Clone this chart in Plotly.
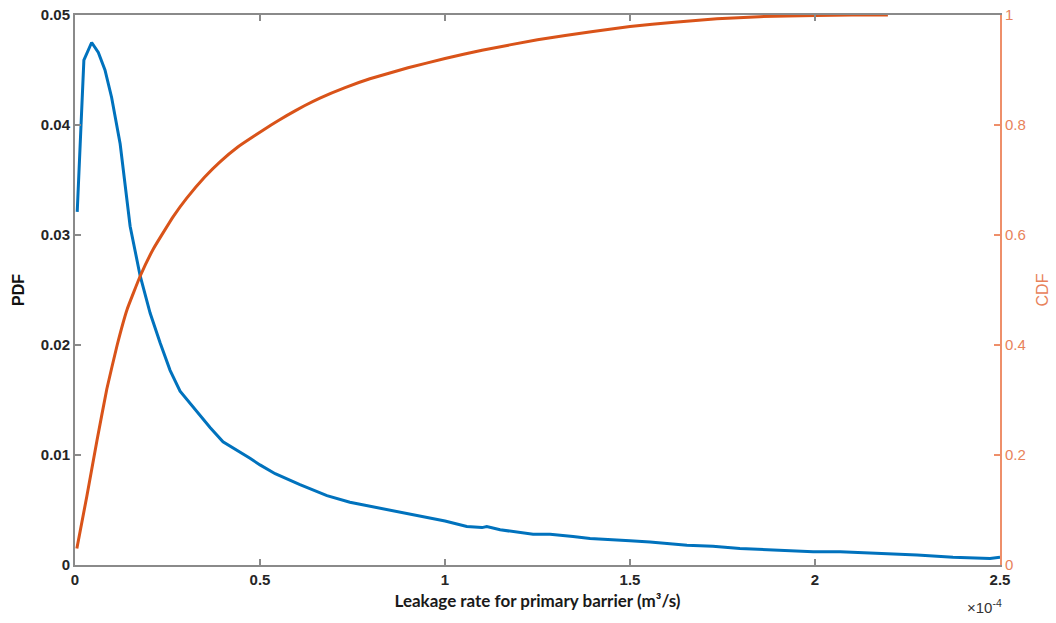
import plotly.graph_objects as go

# Leakage rate in units of 1e-4 m^3/s
pdf_x = [0.006, 0.024, 0.045, 0.063, 0.081, 0.099, 0.122, 0.141, 0.149, 0.176, 0.203, 0.230,
         0.257, 0.284, 0.311, 0.365, 0.400, 0.446, 0.473, 0.500, 0.541, 0.608, 0.681, 0.743,
         0.816, 0.878, 0.941, 1.000, 1.059, 1.100, 1.113, 1.149, 1.238, 1.284, 1.346, 1.392,
         1.500, 1.554, 1.654, 1.724, 1.797, 1.914, 1.995, 2.068, 2.140, 2.276, 2.373, 2.473, 2.500]
pdf_y = [0.0321, 0.0459, 0.0475, 0.0466, 0.0450, 0.0425, 0.0383, 0.0330, 0.0308, 0.0263, 0.0229, 0.0202,
         0.0177, 0.0158, 0.0147, 0.0125, 0.0112, 0.0103, 0.0097, 0.0091, 0.0083, 0.0073, 0.0063, 0.0057,
         0.0052, 0.0048, 0.0044, 0.0040, 0.0035, 0.0034, 0.0035, 0.0032, 0.0028, 0.0028, 0.0026, 0.0024,
         0.0022, 0.0021, 0.0018, 0.0017, 0.0015, 0.0013, 0.0012, 0.0012, 0.0011, 0.0009, 0.0007, 0.0006, 0.0007]

cdf_x = [0.005, 0.032, 0.059, 0.086, 0.114, 0.141, 0.176, 0.212, 0.265, 0.302, 0.350, 0.392,
         0.440, 0.482, 0.530, 0.572, 0.620, 0.662, 0.730, 0.797, 0.900, 1.000, 1.100, 1.250,
         1.400, 1.500, 1.620, 1.735, 1.850, 2.000, 2.100, 2.197]
cdf_y = [0.030, 0.125, 0.225, 0.320, 0.400, 0.465, 0.525, 0.575, 0.633, 0.667, 0.705, 0.733,
         0.760, 0.779, 0.800, 0.817, 0.835, 0.849, 0.868, 0.884, 0.904, 0.921, 0.936, 0.955,
         0.970, 0.979, 0.987, 0.993, 0.997, 0.999, 1.000, 1.000]

x_ticks = [0, 0.5, 1, 1.5, 2, 2.5]
x_ticktext = ["0", "0.5", "1", "1.5", "2", "2.5"]
pdf_ticks = [0, 0.01, 0.02, 0.03, 0.04, 0.05]
pdf_ticktext = ["0", "0.01", "0.02", "0.03", "0.04", "0.05"]
cdf_ticks = [0, 0.2, 0.4, 0.6, 0.8, 1]
cdf_ticktext = ["0", "0.2", "0.4", "0.6", "0.8", "1"]

BLUE = "#0072BD"
ORANGE = "#D95319"
ORANGE_AX = "#EE8F6A"
DARK = "#262626"
GRAY = "#8a8a8a"

fig = go.Figure()
fig.add_trace(go.Scatter(x=pdf_x, y=pdf_y, mode="lines", line=dict(color=BLUE, width=3),
                         name="PDF", yaxis="y"))
fig.add_trace(go.Scatter(x=cdf_x, y=cdf_y, mode="lines",
                         line=dict(color=ORANGE, width=3, shape="spline", smoothing=0.3),
                         name="CDF", yaxis="y2"))

tf = dict(family="Liberation Sans, Arial, sans-serif", size=15, color=DARK, weight="bold")

fig.update_layout(
    width=1056, height=623,
    margin=dict(l=75, r=56, t=15, b=58, autoexpand=False),
    paper_bgcolor="white", plot_bgcolor="white",
    showlegend=False,
    xaxis=dict(range=[0, 2.5], tickvals=x_ticks, ticktext=x_ticktext, automargin=False,
               showgrid=False, zeroline=False, showline=True, linecolor=GRAY, linewidth=2,
               mirror="ticks", ticks="inside", ticklen=6, tickcolor=GRAY, tickwidth=2,
               tickfont=tf, ticklabeloverflow="allow",
               title=dict(text="Leakage rate for primary barrier (m³/s)",
                          font=dict(family="Lato, Open Sans, sans-serif", size=17, color="#1a1a1a", weight="bold"),
                          standoff=8)),
    yaxis=dict(range=[0, 0.05], tickvals=pdf_ticks, ticktext=pdf_ticktext, automargin=False,
               showgrid=False, zeroline=False, showline=True, linecolor=GRAY, linewidth=2,
               ticks="inside", ticklen=6, tickcolor=GRAY, tickwidth=2,
               tickfont=tf, ticklabeloverflow="allow",
               title=dict(text="PDF", font=dict(family="Liberation Sans, Arial, sans-serif", size=16,
                                               color="#111111", weight="bold"), standoff=12)),
    yaxis2=dict(range=[0, 1], tickvals=cdf_ticks, ticktext=cdf_ticktext, overlaying="y", side="right",
                automargin=False, ticklabeloverflow="allow",
                showgrid=False, zeroline=False, showline=True, linecolor=ORANGE_AX, linewidth=2,
                ticks="inside", ticklen=6, tickcolor=ORANGE_AX, tickwidth=2,
                tickfont=dict(family="Liberation Sans, Arial, sans-serif", size=15, color="#E8825A"),
                title=dict(text="CDF", font=dict(family="Liberation Sans, Arial, sans-serif", size=16,
                                                color="#E8825A"), standoff=12)),
    annotations=[dict(text="×10<sup>-4</sup>", x=1.0, y=0, xref="paper", yref="paper",
                      xanchor="right", yanchor="top", yshift=-30, xshift=4, showarrow=False,
                      font=dict(family="Liberation Sans, Arial, sans-serif", size=15, color="#333333"))],
)

fig.write_html("out.html", config={"displayModeBar": False},
               post_script="document.body.style.margin='0';")
